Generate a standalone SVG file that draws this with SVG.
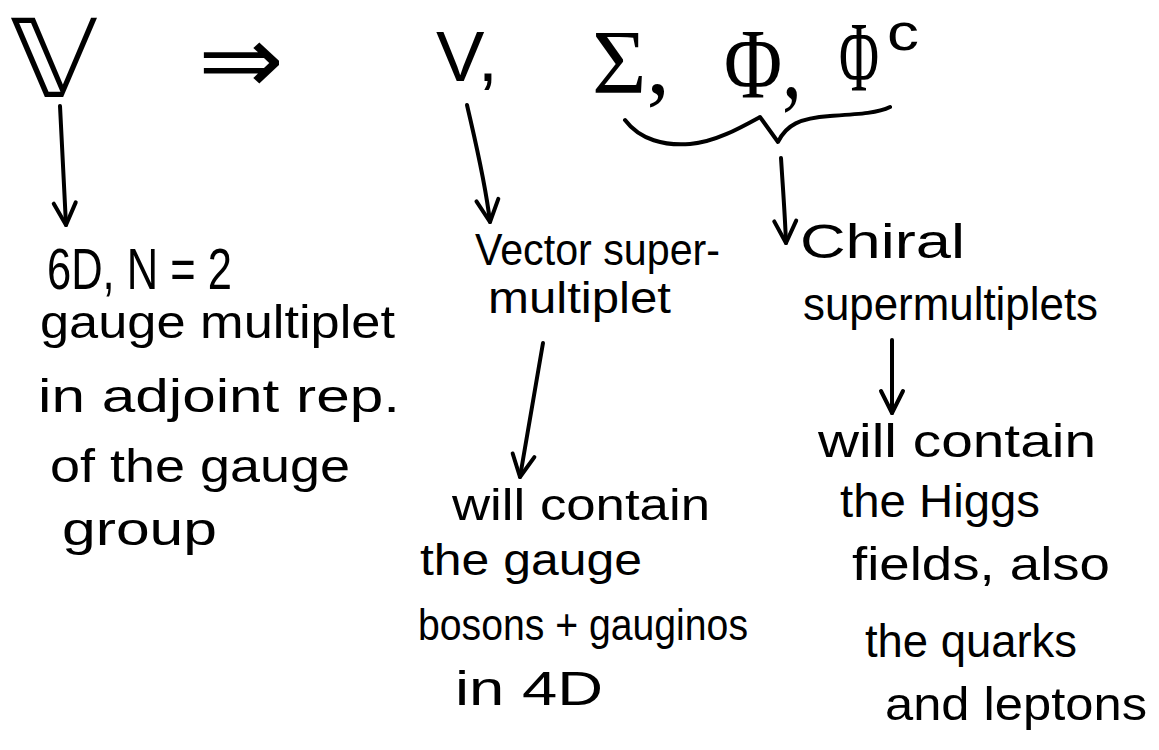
<svg xmlns="http://www.w3.org/2000/svg" width="1159" height="750" viewBox="0 0 1159 750">
<style>
.t{font-family:"Liberation Sans","DejaVu Sans",sans-serif;fill:#000}
.s{font-family:"Liberation Serif","DejaVu Serif",serif;fill:#000}
.m{font-family:"DejaVu Sans","Liberation Sans",sans-serif;fill:#000}
.c{fill:none;stroke:#000;stroke-width:4;stroke-linecap:round;stroke-linejoin:round}
</style>
<defs>
<marker id="ah" markerUnits="userSpaceOnUse" markerWidth="30" markerHeight="30" viewBox="0 0 30 30" refX="26" refY="15" orient="auto">
<path d="M4,4 L26,15 L4,26" fill="none" stroke="#000" stroke-width="4" stroke-linecap="round" stroke-linejoin="round"/>
</marker>
</defs>
<rect width="1159" height="750" fill="#fff"/>
<g id="top">
<text class="m" x="10" y="97" font-size="108" textLength="88" lengthAdjust="spacingAndGlyphs">𝕍</text>
<text class="m" x="198" y="93" font-size="96" textLength="86" lengthAdjust="spacingAndGlyphs">⇒</text>
<text class="t" x="436" y="81" font-size="70" textLength="62" lengthAdjust="spacingAndGlyphs">V,</text>
<text class="s" x="592" y="93" font-size="90" textLength="78" lengthAdjust="spacingAndGlyphs">Σ,</text>
<text class="s" x="724" y="97" font-size="100" textLength="78" lengthAdjust="spacingAndGlyphs">Φ,</text>
<text class="s" x="839" y="90" font-size="100" textLength="40" lengthAdjust="spacingAndGlyphs">Φ</text>
<text class="t" x="887" y="50" font-size="52" textLength="32" lengthAdjust="spacingAndGlyphs">c</text>
</g>
<g id="connectors">
<path class="c" d="M625,120 C640,140 665,146 690,144 C715,142 740,128 760,117 L778,142 C786,125 800,118 830,116 C860,114 878,113 890,107"/>
<path class="c" d="M60,106 C62,150 64,190 66,225" marker-end="url(#ah)"/>
<path class="c" d="M467,105 C475,140 485,180 490,222" marker-end="url(#ah)"/>
<path class="c" d="M781,158 C783,190 785,215 786,243" marker-end="url(#ah)"/>
<path class="c" d="M543,343 C535,390 526,440 520,477" marker-end="url(#ah)"/>
<path class="c" d="M892,340 L892,413" marker-end="url(#ah)"/>
</g>
<g id="node-gauge">
<text class="t" x="47" y="289" font-size="58" textLength="185" lengthAdjust="spacingAndGlyphs">6D, N = 2</text>
<text class="t" x="40" y="338" font-size="46" textLength="355" lengthAdjust="spacingAndGlyphs">gauge multiplet</text>
<text class="t" x="38" y="412" font-size="46" textLength="362" lengthAdjust="spacingAndGlyphs">in adjoint rep.</text>
<text class="t" x="50" y="482" font-size="46" textLength="300" lengthAdjust="spacingAndGlyphs">of the gauge</text>
<text class="t" x="62" y="545" font-size="46" textLength="155" lengthAdjust="spacingAndGlyphs">group</text>
</g>
<g id="node-vector">
<text class="t" x="475" y="265" font-size="44" textLength="245" lengthAdjust="spacingAndGlyphs">Vector super-</text>
<text class="t" x="488" y="313" font-size="44" textLength="183" lengthAdjust="spacingAndGlyphs">multiplet</text>
</g>
<g id="node-vector-contents">
<text class="t" x="452" y="520" font-size="44" textLength="258" lengthAdjust="spacingAndGlyphs">will contain</text>
<text class="t" x="420" y="575" font-size="44" textLength="222" lengthAdjust="spacingAndGlyphs">the gauge</text>
<text class="t" x="418" y="640" font-size="44" textLength="330" lengthAdjust="spacingAndGlyphs">bosons + gauginos</text>
<text class="t" x="455" y="705" font-size="48" textLength="148" lengthAdjust="spacingAndGlyphs">in 4D</text>
</g>
<g id="node-chiral">
<text class="t" x="800" y="258" font-size="48" textLength="165" lengthAdjust="spacingAndGlyphs">Chiral</text>
<text class="t" x="803" y="320" font-size="46" textLength="295" lengthAdjust="spacingAndGlyphs">supermultiplets</text>
</g>
<g id="node-chiral-contents">
<text class="t" x="818" y="457" font-size="46" textLength="278" lengthAdjust="spacingAndGlyphs">will contain</text>
<text class="t" x="840" y="517" font-size="46" textLength="200" lengthAdjust="spacingAndGlyphs">the Higgs</text>
<text class="t" x="852" y="580" font-size="46" textLength="258" lengthAdjust="spacingAndGlyphs">fields, also</text>
<text class="t" x="865" y="657" font-size="46" textLength="212" lengthAdjust="spacingAndGlyphs">the quarks</text>
<text class="t" x="885" y="720" font-size="46" textLength="262" lengthAdjust="spacingAndGlyphs">and leptons</text>
</g>
</svg>
